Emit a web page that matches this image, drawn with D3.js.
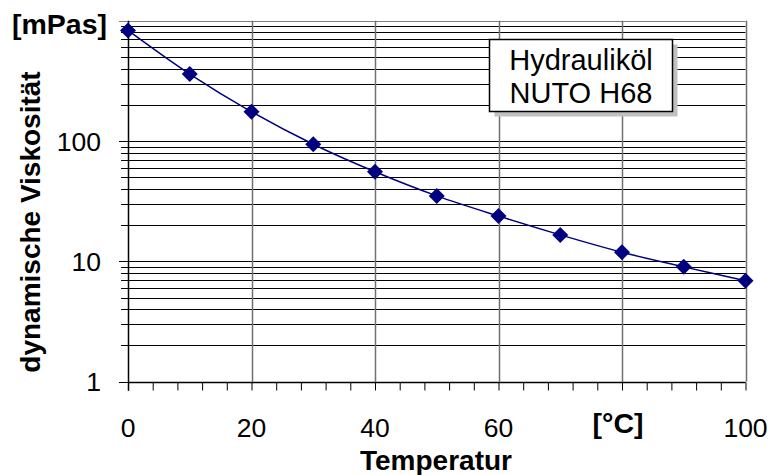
<!DOCTYPE html>
<html>
<head>
<meta charset="utf-8">
<script src="https://cdn.jsdelivr.net/npm/d3@7"></script>
<style>
body { margin: 0; background: #fff; }
svg { font-family: "Liberation Sans", Arial, sans-serif; }
</style>
</head>
<body>
<svg id="chart_svg" width="780" height="475"></svg>
<script>
// temperature [°C]
var temperature = [0, 10, 20, 30, 40, 50, 60, 70, 80, 90, 100];
// dynamic viscosity [mPas]
var viscosity = [830, 360, 175, 94, 55.5, 35, 23.8, 16.6, 11.9, 9.0, 6.9];
var xTickValues = [0, 20, 40, 60, 80, 100];
var xTickLabels = ["0", "20", "40", "60", "", "100"];   // 80 is covered by the unit label
var yTickValues = [1, 10, 100];
var legendLines = ["Hydrauliköl", "NUTO H68"];

var svg, g, xScale, yScale;
var lineColor = "#000080";

document.addEventListener('DOMContentLoaded', function () {
    svg = d3.select("#chart_svg");
    g = svg.append("g");

    xScale = d3.scaleLinear().domain([0, 100]).range([128, 745.5]);
    yScale = d3.scaleLog().domain([1, 1000]).range([381.7, 20.7]);

    drawGrid();
    drawAxes();
    drawSeries();
    drawLegend();
    drawLabels();
});

function drawGrid(){
    // minor values 1..9 for each decade
    var hLines = [];
    for(let k=0; k<3; k++){
        for(let m=1; m<10; m++){
            hLines.push(m*Math.pow(10, k));
        }
    }
    hLines.push(1000);

    g.selectAll(".hgrid")
        .data(hLines)
        .enter()
        .append("line")
        .attr("x1", function(d){ return yTickValues.indexOf(d) >= 0 || d == 1000 ? xScale(0)-9 : xScale(0)-7; })
        .attr("x2", xScale(100))
        .attr("y1", d => Math.round(yScale(d))+0.5)
        .attr("y2", d => Math.round(yScale(d))+0.5)
        .attr("stroke", d => d == 1000 ? "#808080" : "#000")
        .attr("stroke-width", 1);

    g.selectAll(".vgrid")
        .data(xTickValues.slice(1))
        .enter()
        .append("line")
        .attr("x1", d => Math.round(xScale(d))+0.5)
        .attr("x2", d => Math.round(xScale(d))+0.5)
        .attr("y1", yScale(1000))
        .attr("y2", yScale(1))
        .attr("stroke", "#707070")
        .attr("stroke-width", 1.5);
}

function drawAxes(){
    var xAxis = d3.axisBottom(xScale)
        .tickValues(d3.range(0, 101, 4))
        .tickSize(8)
        .tickFormat("");
    var gx = g.append("g")
        .attr("transform", "translate(0," + (Math.round(yScale(1))+0.5) + ")")
        .call(xAxis);
    gx.select(".domain").remove();
    gx.selectAll("line").attr("stroke", "#000");

    // x tick labels
    g.selectAll(".xlab")
        .data(xTickValues)
        .enter()
        .append("text")
        .attr("x", d => xScale(d))
        .attr("y", 437)
        .attr("text-anchor", "middle")
        .attr("font-size", 26.5)
        .text((d, i) => xTickLabels[i]);

    // y tick labels
    g.selectAll(".ylab")
        .data(yTickValues)
        .enter()
        .append("text")
        .attr("x", 101)
        .attr("y", d => yScale(d) + 9.5)
        .attr("text-anchor", "end")
        .attr("font-size", 26.5)
        .text(d => d);

    // axis lines
    g.append("line")
        .attr("x1", Math.round(xScale(0))+0.5).attr("x2", Math.round(xScale(0))+0.5)
        .attr("y1", yScale(1000)).attr("y2", yScale(1)+9)
        .attr("stroke", "#000").attr("stroke-width", 1.5);
    g.append("line")
        .attr("x1", xScale(0)).attr("x2", xScale(100))
        .attr("y1", Math.round(yScale(1))+0.5).attr("y2", Math.round(yScale(1))+0.5)
        .attr("stroke", "#000").attr("stroke-width", 1.5);
}

function drawSeries(){
    var pts = temperature.map(function(t, i){ return {t: t, v: viscosity[i]}; });

    var line = d3.line()
        .x(d => xScale(d.t))
        .y(d => yScale(d.v))
        .curve(d3.curveCatmullRom);

    g.append("path")
        .datum(pts)
        .attr("d", line)
        .attr("fill", "none")
        .attr("stroke", lineColor)
        .attr("stroke-width", 1.5);

    g.selectAll(".marker")
        .data(pts)
        .enter()
        .append("path")
        .attr("d", "M0,-8L8,0L0,8L-8,0Z")
        .attr("transform", d => "translate(" + xScale(d.t) + "," + yScale(d.v) + ")")
        .attr("fill", lineColor);
}

function drawLegend(){
    var box = {x: 489.5, y: 39.5, w: 183, h: 72};
    g.append("rect")
        .attr("x", box.x+5).attr("y", box.y+5)
        .attr("width", box.w).attr("height", box.h)
        .attr("fill", "#c0c0c0");
    g.append("rect")
        .attr("x", box.x).attr("y", box.y)
        .attr("width", box.w).attr("height", box.h)
        .attr("fill", "#fff")
        .attr("stroke", "#000")
        .attr("stroke-width", 1.5);
    g.selectAll(".legtext")
        .data(legendLines)
        .enter()
        .append("text")
        .attr("x", box.x + box.w/2)
        .attr("y", (d, i) => 70 + i*33)
        .attr("text-anchor", "middle")
        .attr("font-size", 29)
        .text(d => d);
}

function drawLabels(){
    g.append("text")
        .attr("x", 12).attr("y", 34)
        .attr("font-size", 28.5).attr("font-weight", "bold")
        .text("[mPas]");
    g.append("text")
        .attr("x", 618).attr("y", 433)
        .attr("text-anchor", "middle")
        .attr("font-size", 28.5).attr("font-weight", "bold")
        .text("[°C]");
    g.append("text")
        .attr("x", 436).attr("y", 470)
        .attr("text-anchor", "middle")
        .attr("font-size", 28).attr("font-weight", "bold")
        .text("Temperatur");
    g.append("text")
        .attr("transform", "translate(40,222) rotate(-90)")
        .attr("text-anchor", "middle")
        .attr("font-size", 28).attr("font-weight", "bold")
        .text("dynamische Viskosität");
}
</script>
</body>
</html>
